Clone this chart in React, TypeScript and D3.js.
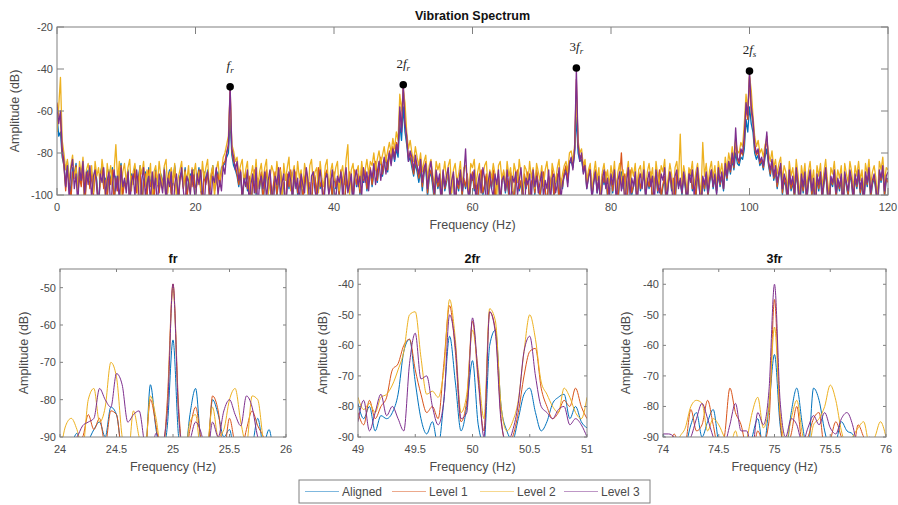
import React from "react";
import * as d3 from "d3";

// series names + MATLAB default colours
const seriesNames = ["Aligned", "Level 1", "Level 2", "Level 3"];
const seriesColors = ["#0072BD", "#D95319", "#EDB120", "#7E2F8E"];

// full spectrum, one sample every 0.25 Hz from 0 to 120 Hz (one row = 5 Hz)
const FULL_STEP = 0.25;
const alignedFull = [
  -62, -72, -70, -82, -86, -96, -84, -92, -100, -87, -90, -85, -98, -89, -94, -86, -104, -91, -88, -95,
  -89, -99, -87, -93, -106, -90, -86, -96, -92, -101, -88, -94, -87, -104, -91, -97, -89, -85, -99, -93,
  -96, -88, -103, -90, -94, -87, -98, -92, -86, -106, -93, -89, -100, -87, -95, -91, -102, -88, -93, -98,
  -90, -95, -87, -104, -92, -88, -99, -94, -86, -97, -108, -91, -89, -96, -87, -101, -93, -90, -95, -88,
  -99, -92, -87, -96, -103, -89, -94, -88, -100, -91, -86, -97, -93, -89, -95, -87, -86, -85, -82, -80,
  -64, -81, -86, -88, -91, -96, -89, -103, -94, -90, -98, -92, -107, -95, -89, -100, -93, -97, -90, -104,
  -94, -89, -99, -92, -106, -96, -90, -101, -93, -88, -98, -95, -109, -91, -97, -89, -102, -94, -90, -100,
  -96, -91, -104, -93, -89, -98, -95, -107, -90, -92, -101, -88, -97, -94, -105, -91, -89, -99, -93, -102,
  -90, -97, -93, -101, -89, -95, -108, -92, -98, -90, -94, -103, -89, -96, -91, -100, -87, -94, -89, -98,
  -93, -88, -96, -90, -85, -94, -87, -83, -91, -86, -82, -89, -80, -85, -79, -84, -78, -82, -66, -74,
  -58, -70, -76, -84, -82, -87, -91, -85, -89, -94, -88, -98, -90, -86, -101, -92, -89, -96, -103, -91,
  -97, -93, -105, -90, -98, -94, -89, -103, -96, -91, -108, -94, -98, -90, -101, -93, -97, -91, -104, -95,
  -90, -98, -94, -107, -92, -89, -100, -96, -91, -104, -93, -97, -89, -102, -95, -91, -109, -94, -90, -99,
  -93, -101, -90, -96, -105, -92, -89, -98, -94, -103, -91, -97, -90, -106, -95, -92, -100, -89, -96, -102,
  -94, -90, -98, -107, -92, -96, -89, -101, -95, -91, -104, -93, -97, -90, -87, -94, -85, -84, -87, -80,
  -63, -80, -84, -83, -89, -86, -97, -91, -88, -102, -94, -89, -99, -93, -106, -91, -95, -90, -101, -96,
  -92, -99, -90, -95, -104, -93, -89, -97, -91, -107, -94, -89, -100, -96, -92, -103, -90, -98, -94, -89,
  -101, -93, -97, -90, -106, -94, -91, -99, -89, -102, -96, -92, -108, -95, -90, -98, -93, -104, -91, -96,
  -94, -100, -91, -97, -105, -92, -89, -98, -95, -102, -90, -96, -107, -93, -98, -91, -101, -94, -89, -97,
  -92, -99, -90, -96, -91, -98, -87, -93, -85, -90, -83, -88, -80, -85, -86, -82, -83, -78, -64, -70,
  -58, -66, -70, -80, -83, -81, -86, -84, -88, -82, -78, -86, -91, -85, -93, -89, -97, -91, -87, -100,
  -93, -96, -105, -90, -98, -94, -102, -89, -97, -108, -92, -99, -91, -104, -95, -90, -101, -94, -110, -92,
  -98, -91, -103, -95, -89, -100, -107, -93, -96, -90, -102, -94, -98, -92, -109, -91, -96, -101, -90, -95,
  -104, -92, -97, -90, -100, -94, -106, -91, -96, -89, -102, -95, -92, -98, -108, -90, -94, -88, -101, -93,
  -92,
];
const level1Full = [
  -56, -62, -64, -80, -86, -98, -88, -94, -103, -89, -92, -86, -100, -91, -96, -87, -106, -93, -89, -97,
  -90, -101, -88, -95, -108, -91, -87, -97, -93, -102, -89, -95, -88, -105, -92, -98, -90, -86, -100, -94,
  -97, -89, -104, -91, -95, -88, -99, -93, -87, -107, -94, -90, -101, -88, -96, -92, -103, -89, -94, -99,
  -91, -96, -88, -105, -93, -89, -100, -95, -87, -98, -109, -92, -90, -97, -88, -102, -94, -91, -96, -89,
  -100, -93, -88, -97, -104, -90, -95, -89, -101, -92, -87, -98, -94, -90, -96, -88, -85, -84, -80, -77,
  -49, -79, -84, -86, -90, -95, -88, -102, -93, -89, -97, -91, -106, -94, -88, -99, -92, -96, -89, -103,
  -93, -88, -98, -91, -105, -95, -89, -100, -92, -87, -97, -94, -108, -90, -96, -88, -101, -93, -89, -99,
  -95, -90, -103, -92, -88, -97, -94, -106, -89, -91, -100, -87, -96, -93, -104, -90, -88, -98, -92, -101,
  -89, -96, -92, -100, -88, -94, -107, -91, -97, -89, -93, -102, -88, -95, -90, -99, -86, -93, -88, -97,
  -92, -87, -95, -89, -84, -93, -86, -82, -90, -85, -81, -88, -79, -84, -77, -82, -75, -78, -60, -68,
  -48, -64, -74, -82, -80, -85, -90, -83, -87, -92, -86, -96, -89, -84, -99, -91, -88, -94, -101, -90,
  -96, -92, -104, -89, -97, -93, -88, -102, -95, -90, -107, -93, -97, -89, -100, -92, -96, -90, -103, -94,
  -89, -97, -93, -106, -91, -88, -99, -95, -90, -103, -92, -96, -88, -101, -94, -90, -108, -93, -89, -98,
  -92, -100, -89, -95, -104, -91, -88, -97, -93, -102, -90, -96, -89, -105, -94, -91, -99, -88, -95, -101,
  -93, -89, -97, -106, -91, -95, -88, -100, -94, -90, -103, -92, -96, -89, -86, -93, -84, -83, -86, -78,
  -45, -77, -82, -81, -88, -85, -96, -90, -87, -101, -93, -88, -98, -92, -105, -90, -94, -89, -100, -95,
  -91, -98, -89, -94, -103, -92, -80, -96, -90, -106, -93, -88, -99, -95, -91, -102, -89, -97, -93, -88,
  -100, -92, -96, -89, -105, -93, -90, -98, -88, -101, -95, -91, -107, -94, -89, -97, -92, -103, -90, -95,
  -93, -99, -90, -96, -104, -91, -88, -97, -94, -101, -89, -95, -106, -92, -97, -90, -100, -93, -88, -96,
  -91, -98, -89, -95, -90, -97, -86, -92, -84, -89, -82, -87, -73, -83, -85, -79, -81, -75, -58, -64,
  -44, -60, -66, -78, -81, -79, -85, -83, -87, -80, -72, -85, -90, -84, -92, -88, -96, -90, -86, -99,
  -92, -95, -104, -89, -97, -93, -101, -88, -96, -107, -91, -98, -90, -103, -94, -89, -100, -93, -109, -91,
  -97, -90, -102, -94, -88, -99, -106, -92, -95, -89, -101, -93, -97, -91, -108, -90, -95, -100, -89, -94,
  -103, -91, -96, -89, -99, -93, -105, -90, -95, -88, -101, -94, -91, -97, -107, -89, -93, -87, -100, -92,
  -94,
];
const level2Full = [
  -70, -58, -44, -74, -80, -88, -83, -94, -86, -81, -92, -87, -98, -84, -90, -82, -95, -88, -85, -93,
  -86, -99, -84, -91, -87, -96, -83, -89, -102, -85, -92, -86, -97, -88, -76, -93, -84, -100, -89, -85,
  -94, -87, -83, -98, -89, -85, -92, -101, -86, -90, -84, -96, -88, -93, -85, -103, -89, -86, -95, -84,
  -91, -97, -86, -83, -99, -90, -87, -94, -85, -102, -92, -88, -84, -96, -89, -93, -86, -100, -87, -90,
  -85, -95, -89, -98, -84, -92, -87, -83, -97, -90, -86, -101, -88, -84, -93, -89, -82, -80, -76, -72,
  -52, -76, -79, -84, -82, -90, -86, -83, -95, -88, -84, -99, -91, -86, -93, -83, -97, -89, -85, -94,
  -87, -83, -100, -92, -86, -89, -96, -84, -91, -88, -103, -85, -93, -87, -82, -98, -90, -86, -95, -84,
  -92, -88, -97, -85, -90, -101, -86, -83, -94, -89, -87, -99, -84, -92, -96, -86, -83, -100, -89, -85,
  -93, -87, -84, -98, -90, -86, -95, -83, -76, -100, -88, -85, -94, -89, -86, -97, -84, -92, -88, -83,
  -90, -84, -86, -80, -88, -83, -79, -85, -81, -77, -84, -79, -75, -80, -73, -78, -70, -74, -52, -60,
  -50, -56, -70, -78, -74, -80, -84, -77, -82, -86, -80, -89, -84, -81, -92, -86, -83, -90, -95, -84,
  -88, -85, -97, -90, -84, -93, -86, -83, -99, -88, -85, -94, -90, -84, -96, -87, -86, -92, -98, -85,
  -87, -83, -95, -89, -85, -99, -91, -86, -84, -97, -88, -92, -85, -90, -101, -86, -84, -93, -88, -96,
  -84, -91, -87, -98, -85, -89, -94, -83, -90, -100, -86, -88, -95, -84, -92, -87, -97, -85, -89, -93,
  -86, -96, -88, -84, -92, -99, -85, -89, -94, -87, -83, -97, -90, -86, -84, -89, -80, -79, -84, -76,
  -54, -74, -80, -78, -86, -83, -94, -88, -85, -98, -90, -84, -93, -87, -101, -89, -85, -94, -88, -96,
  -86, -92, -84, -99, -89, -85, -95, -88, -102, -90, -84, -96, -87, -91, -85, -98, -88, -86, -94, -84,
  -97, -89, -85, -92, -87, -100, -84, -91, -95, -86, -89, -83, -98, -92, -85, -90, -101, -87, -84, -93,
  -71, -95, -86, -91, -99, -87, -90, -84, -96, -89, -85, -93, -100, -75, -91, -85, -95, -88, -84, -92,
  -86, -96, -84, -90, -85, -93, -82, -88, -80, -85, -77, -83, -74, -79, -80, -75, -77, -66, -52, -60,
  -43, -50, -62, -72, -77, -74, -80, -78, -82, -76, -74, -80, -84, -79, -87, -83, -90, -85, -82, -93,
  -86, -89, -98, -84, -91, -87, -95, -83, -90, -101, -86, -92, -85, -97, -89, -84, -94, -88, -99, -86,
  -91, -85, -96, -89, -83, -93, -100, -87, -90, -84, -95, -88, -92, -86, -102, -85, -90, -94, -84, -89,
  -97, -86, -91, -84, -93, -88, -99, -85, -90, -83, -95, -89, -86, -92, -101, -84, -88, -82, -94, -87,
  -88,
];
const level3Full = [
  -58, -66, -60, -78, -84, -96, -86, -101, -88, -83, -97, -90, -105, -87, -93, -84, -99, -89, -95, -86,
  -102, -91, -88, -97, -106, -90, -94, -87, -100, -93, -89, -108, -95, -88, -98, -91, -103, -87, -96, -92,
  -99, -89, -105, -94, -90, -101, -88, -96, -109, -93, -87, -100, -95, -91, -104, -89, -97, -92, -107, -90,
  -94, -99, -88, -103, -92, -96, -89, -110, -95, -90, -101, -93, -87, -98, -105, -91, -94, -100, -88, -96,
  -103, -90, -95, -88, -99, -106, -92, -89, -97, -102, -91, -94, -87, -100, -93, -98, -86, -90, -80, -76,
  -48, -78, -82, -88, -84, -93, -89, -101, -92, -96, -88, -104, -95, -90, -99, -87, -107, -94, -91, -97,
  -89, -102, -93, -88, -98, -105, -91, -95, -87, -100, -94, -90, -108, -96, -89, -93, -101, -88, -97, -92,
  -104, -90, -95, -99, -87, -93, -106, -91, -89, -98, -102, -94, -88, -96, -109, -92, -90, -100, -95, -88,
  -97, -103, -91, -94, -89, -101, -93, -87, -99, -95, -90, -105, -92, -88, -96, -91, -100, -87, -94, -89,
  -98, -88, -92, -85, -95, -89, -84, -93, -87, -82, -90, -84, -80, -86, -78, -83, -76, -80, -58, -70,
  -47, -66, -72, -84, -79, -82, -88, -81, -86, -90, -83, -94, -87, -85, -97, -89, -84, -92, -99, -88,
  -94, -90, -103, -88, -96, -91, -87, -100, -93, -89, -106, -92, -95, -88, -98, -91, -78, -96, -102, -90,
  -93, -88, -104, -95, -90, -99, -87, -92, -107, -94, -89, -97, -101, -90, -95, -88, -103, -93, -91, -98,
  -88, -96, -105, -91, -94, -89, -100, -93, -87, -98, -108, -92, -95, -90, -102, -88, -96, -91, -99, -94,
  -89, -101, -93, -97, -88, -104, -92, -90, -99, -95, -87, -103, -94, -91, -89, -96, -85, -82, -88, -78,
  -40, -76, -84, -80, -90, -86, -97, -92, -88, -102, -94, -89, -99, -91, -106, -93, -88, -97, -92, -100,
  -90, -95, -88, -103, -93, -89, -98, -91, -105, -94, -87, -100, -92, -96, -89, -108, -93, -90, -97, -88,
  -101, -94, -89, -96, -91, -104, -88, -95, -99, -90, -93, -87, -102, -96, -89, -94, -107, -91, -88, -97,
  -92, -99, -89, -95, -103, -90, -94, -88, -100, -93, -87, -97, -105, -91, -95, -89, -99, -92, -88, -96,
  -90, -100, -87, -94, -89, -97, -85, -91, -84, -88, -80, -86, -68, -82, -84, -78, -80, -72, -56, -62,
  -41, -58, -64, -76, -80, -78, -84, -82, -86, -79, -70, -84, -88, -83, -91, -86, -94, -89, -85, -97,
  -90, -93, -102, -88, -95, -91, -99, -87, -94, -105, -90, -96, -89, -101, -93, -88, -98, -92, -107, -90,
  -95, -89, -100, -93, -87, -97, -104, -91, -94, -88, -99, -92, -96, -90, -106, -89, -94, -98, -88, -93,
  -101, -90, -95, -88, -97, -92, -103, -89, -94, -87, -99, -93, -90, -96, -105, -88, -92, -86, -98, -91,
  -89,
];

// harmonic markers
const peakFreqs = [25, 50, 75, 100];
const peakAmps = [-48.5, -47.5, -39.5, -41];
const peakPrefix = ["", "2", "3", "2"];
const peakSub = ["r", "r", "r", "s"];

// zoomed spectra, one sample every 0.05 Hz
const ZOOM_STEP = 0.05;

const frStart = 24;
const frAligned = [
  -96, -94, -92, -89, -93, -91, -88, -86, -90, -82, -84, -94, -96, -92, -95, -97, -76, -88, -95, -87,
  -64, -90, -96, -84, -77, -92, -95, -80, -84, -90, -88, -95, -90, -97, -93, -85, -92, -88, -96, -98, -98,
];
const frLevel1 = [
  -98, -96, -93, -91, -90, -84, -88, -85, -92, -83, -84, -95, -97, -92, -96, -95, -80, -87, -96, -80,
  -49, -82, -97, -88, -82, -91, -96, -79, -83, -94, -85, -92, -94, -88, -83, -87, -90, -95, -97, -98, -98,
];
const frLevel2 = [
  -95, -87, -85, -88, -93, -80, -77, -86, -82, -70, -74, -90, -96, -83, -90, -95, -79, -85, -94, -82,
  -50, -84, -96, -86, -84, -95, -93, -82, -90, -88, -80, -77, -86, -92, -79, -80, -91, -96, -97, -98, -97,
];
const frLevel3 = [
  -97, -94, -91, -90, -87, -86, -85, -77, -80, -82, -73, -76, -86, -84, -83, -92, -96, -89, -92, -83,
  -49, -84, -95, -91, -86, -89, -96, -86, -90, -83, -80, -84, -87, -79, -82, -90, -93, -96, -97, -98, -98,
];

const fr2Start = 49;
const fr2Aligned = [
  -79, -84, -80, -88, -83, -84, -82, -76, -62, -58, -72, -84, -89, -85, -93, -78, -57, -72, -88, -80,
  -65, -86, -92, -60, -55, -80, -88, -91, -84, -76, -74, -82, -88, -85, -79, -77, -76, -84, -80, -85, -87,
];
const fr2Level1 = [
  -82, -86, -78, -84, -80, -77, -68, -66, -60, -58, -68, -76, -82, -80, -84, -66, -47, -62, -85, -78,
  -52, -72, -88, -49, -55, -84, -93, -90, -82, -70, -62, -61, -74, -80, -84, -82, -78, -80, -74, -80, -84,
];
const fr2Level2 = [
  -77, -81, -79, -82, -77, -76, -73, -68, -62, -50, -49, -64, -76, -75, -77, -68, -45, -58, -82, -76,
  -55, -68, -84, -48, -52, -80, -88, -85, -78, -62, -50, -58, -72, -76, -80, -82, -74, -77, -82, -84, -77,
];
const fr2Level3 = [
  -85, -78, -88, -82, -76, -83, -80, -84, -88, -66, -56, -71, -70, -80, -86, -78, -50, -60, -84, -82,
  -51, -70, -90, -49, -56, -85, -92, -88, -79, -62, -57, -70, -80, -82, -84, -81, -80, -86, -84, -86, -90,
];

const fr3Start = 74;
const fr3Aligned = [
  -89, -92, -90, -95, -93, -86, -82, -90, -85, -81, -92, -96, -94, -91, -96, -97, -90, -84, -94, -80,
  -63, -86, -95, -82, -74, -86, -95, -74, -78, -88, -94, -92, -85, -88, -89, -95, -97, -96, -98, -97, -98,
];
const fr3Level1 = [
  -96, -94, -89, -93, -92, -81, -88, -86, -78, -86, -94, -90, -74, -82, -86, -94, -96, -88, -92, -85,
  -45, -84, -95, -89, -80, -92, -90, -84, -82, -94, -91, -85, -90, -94, -96, -86, -90, -93, -96, -97, -98,
];
const fr3Level2 = [
  -94, -92, -95, -90, -87, -80, -78, -79, -88, -84, -86, -90, -93, -88, -96, -91, -82, -77, -87, -80,
  -54, -82, -92, -84, -78, -89, -95, -86, -84, -80, -73, -78, -88, -93, -90, -87, -85, -92, -90, -85, -90,
];
const fr3Level3 = [
  -89, -89, -90, -94, -92, -90, -84, -79, -84, -90, -95, -93, -86, -79, -88, -88, -94, -82, -86, -75,
  -40, -78, -90, -84, -86, -92, -87, -83, -86, -82, -87, -89, -84, -82, -86, -94, -96, -90, -95, -97, -98,
];

// tick labels
const topXTicks = [0, 20, 40, 60, 80, 100, 120];
const topYTicks = [-100, -80, -60, -40, -20];
const frXTicks = [24, 24.5, 25, 25.5, 26];
const fr2XTicks = [49, 49.5, 50, 50.5, 51];
const fr3XTicks = [74, 74.5, 75, 75.5, 76];
const frYTicks = [-90, -80, -70, -60, -50];
const fr23YTicks = [-90, -80, -70, -60, -50, -40];

const FONT = "'Liberation Sans', Arial, Helvetica, sans-serif";
const AXIS = "#808080";
const TEXT = "#4a4a4a";

type AxesProps = {
  id: string;
  box: [number, number, number, number]; // left, top, right, bottom
  xDomain: [number, number];
  yDomain: [number, number];
  xTicks: number[];
  yTicks: number[];
  title: string;
  titleDy: number;
  freqs: number[];
  series: number[][];
  smooth: boolean;
  lineWidth: number;
  tickLen: number;
  yLabelOffset: number;
  children?: (x: d3.ScaleLinear<number, number>, y: d3.ScaleLinear<number, number>) => React.ReactNode;
};

function Axes(p: AxesProps) {
  const [left, top, right, bottom] = p.box;
  const x = d3.scaleLinear().domain(p.xDomain).range([left, right]);
  const y = d3.scaleLinear().domain(p.yDomain).range([bottom, top]);
  const line = d3
    .line<number>()
    .x((_, i) => x(p.freqs[i]))
    .y((d) => y(d))
    .curve(p.smooth ? d3.curveMonotoneX : d3.curveLinear);

  return (
    <g>
      <defs>
        <clipPath id={p.id}>
          <rect x={left} y={top} width={right - left} height={bottom - top} />
        </clipPath>
      </defs>
      <g clipPath={`url(#${p.id})`}>
        {p.series.map((s, k) => (
          <path key={k} d={line(s) || ""} fill="none" stroke={seriesColors[k]} strokeWidth={p.lineWidth} strokeLinejoin="round" />
        ))}
      </g>
      {p.children && p.children(x, y)}
      <rect x={left} y={top} width={right - left} height={bottom - top} fill="none" stroke={AXIS} strokeWidth={1} />
      {/* ticks on all four sides, pointing in */}
      {p.xTicks.map((t) => (
        <g key={"x" + t}>
          <line x1={x(t)} x2={x(t)} y1={bottom} y2={bottom - p.tickLen} stroke={AXIS} />
          <line x1={x(t)} x2={x(t)} y1={top} y2={top + p.tickLen} stroke={AXIS} />
          <text x={x(t)} y={bottom + 16} textAnchor="middle" fontSize={11} fill={TEXT} fontFamily={FONT}>
            {t}
          </text>
        </g>
      ))}
      {p.yTicks.map((t) => (
        <g key={"y" + t}>
          <line x1={left} x2={left + p.tickLen} y1={y(t)} y2={y(t)} stroke={AXIS} />
          <line x1={right} x2={right - p.tickLen} y1={y(t)} y2={y(t)} stroke={AXIS} />
          <text x={left - 4} y={y(t) + 4} textAnchor="end" fontSize={11} fill={TEXT} fontFamily={FONT}>
            {t}
          </text>
        </g>
      ))}
      <text x={(left + right) / 2} y={top + p.titleDy} textAnchor="middle" fontSize={12.5} fontWeight="bold" fill="#111" fontFamily={FONT}>
        {p.title}
      </text>
      <text x={(left + right) / 2} y={bottom + 34} textAnchor="middle" fontSize={12.5} fill={TEXT} fontFamily={FONT}>
        Frequency (Hz)
      </text>
      <text
        transform={`translate(${left - p.yLabelOffset},${(top + bottom) / 2}) rotate(-90)`}
        textAnchor="middle"
        fontSize={12.5}
        fill={TEXT}
        fontFamily={FONT}
      >
        Amplitude (dB)
      </text>
    </g>
  );
}

const zoomFreqs = (start: number, n: number) => d3.range(n).map((i) => start + i * ZOOM_STEP);

export default function App() {
  const fullFreqs = alignedFull.map((_, i) => i * FULL_STEP);
  const legendLineX = [305, 392, 480, 564];

  return (
    <div style={{ position: "absolute", left: 0, top: 0 }}>
      <svg width={898} height={505} style={{ display: "block", background: "#fff" }}>
        <Axes
          id="clipTop"
          box={[57, 27, 888, 195]}
          xDomain={[0, 120]}
          yDomain={[-100, -20]}
          xTicks={topXTicks}
          yTicks={topYTicks}
          title="Vibration Spectrum"
          titleDy={-7}
          freqs={fullFreqs}
          series={[alignedFull, level1Full, level2Full, level3Full]}
          smooth={false}
          lineWidth={1.3}
          tickLen={7}
          yLabelOffset={38}
        >
          {(x, y) =>
            peakFreqs.map((f, i) => (
              <g key={f}>
                <circle cx={x(f)} cy={y(peakAmps[i])} r={3.8} fill="#000" />
                <text
                  x={x(f)}
                  y={y(peakAmps[i]) - 17}
                  textAnchor="middle"
                  fontFamily="'Liberation Serif', 'Times New Roman', serif"
                  fontSize={13}
                  fill="#222"
                >
                  {peakPrefix[i] && <tspan>{peakPrefix[i]}</tspan>}
                  <tspan fontStyle="italic">f</tspan>
                  <tspan fontStyle="italic" fontSize={9} dy={3}>
                    {peakSub[i]}
                  </tspan>
                </text>
              </g>
            ))
          }
        </Axes>

        <Axes
          id="clipFr"
          box={[60, 269, 286, 437]}
          xDomain={[24, 26]}
          yDomain={[-90, -45]}
          xTicks={frXTicks}
          yTicks={frYTicks}
          title="fr"
          titleDy={-6}
          freqs={zoomFreqs(frStart, frAligned.length)}
          series={[frAligned, frLevel1, frLevel2, frLevel3]}
          smooth={true}
          lineWidth={1}
          tickLen={3}
          yLabelOffset={32}
        />
        <Axes
          id="clipFr2"
          box={[358, 269, 587, 437]}
          xDomain={[49, 51]}
          yDomain={[-90, -35]}
          xTicks={fr2XTicks}
          yTicks={fr23YTicks}
          title="2fr"
          titleDy={-6}
          freqs={zoomFreqs(fr2Start, fr2Aligned.length)}
          series={[fr2Aligned, fr2Level1, fr2Level2, fr2Level3]}
          smooth={true}
          lineWidth={1}
          tickLen={3}
          yLabelOffset={31}
        />
        <Axes
          id="clipFr3"
          box={[663, 269, 886, 437]}
          xDomain={[74, 76]}
          yDomain={[-90, -35]}
          xTicks={fr3XTicks}
          yTicks={fr23YTicks}
          title="3fr"
          titleDy={-6}
          freqs={zoomFreqs(fr3Start, fr3Aligned.length)}
          series={[fr3Aligned, fr3Level1, fr3Level2, fr3Level3]}
          smooth={true}
          lineWidth={1}
          tickLen={3}
          yLabelOffset={33}
        />

        {/* legend */}
        <rect x={299} y={480} width={351} height={23} fill="#fff" stroke={AXIS} strokeWidth={1} />
        {seriesNames.map((name, i) => (
          <g key={name}>
            <line
              x1={legendLineX[i]}
              x2={legendLineX[i] + 34}
              y1={491.5}
              y2={491.5}
              stroke={seriesColors[i]}
              strokeWidth={1}
              strokeOpacity={0.5}
            />
            <text x={legendLineX[i] + 37} y={496} fontSize={12} fill={TEXT} fontFamily={FONT}>
              {name}
            </text>
          </g>
        ))}
      </svg>
    </div>
  );
}
